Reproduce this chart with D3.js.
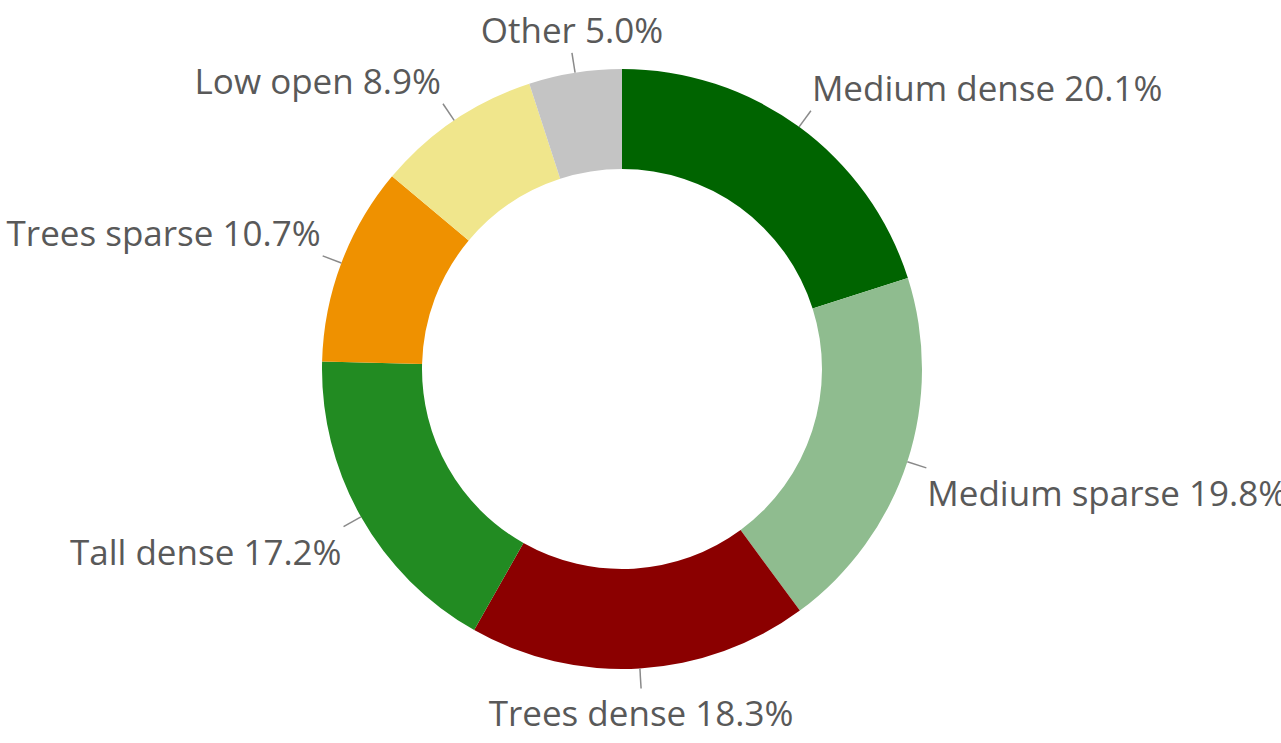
<!DOCTYPE html>
<html>
<head>
<meta charset="utf-8">
<script src="https://cdn.jsdelivr.net/npm/d3@7"></script>
<style>
  body { margin: 0; background: #fff; }
  .label { font-family: "Open Sans", sans-serif; font-size: 35px; fill: #595959; }
  .leader { stroke: #8a8a8a; stroke-width: 1.5; fill: none; }
</style>
</head>
<body>
<script>
var categories = ['Medium dense', 'Medium sparse', 'Trees dense', 'Tall dense', 'Trees sparse', 'Low open', 'Other'];
var shares     = [20.1, 19.8, 18.3, 17.2, 10.7, 8.9, 5.0];
var colours    = ['#006400', '#8fbc8f', '#8b0000', '#228b22', '#ef9100', '#f0e68c', '#c4c4c4'];

var width = 1281, height = 743,
  cx = 622, cy = 369,
  outer = 300, inner = 200, tick = 20;

var data = categories.map(function(c, i) { return {name: c, value: shares[i], colour: colours[i]}; });

var svg = d3.select('body').append('svg')
  .attr('width', width)
  .attr('height', height);

var g = svg.append('g')
  .attr('transform', 'translate(' + cx + ',' + cy + ')');

var pie = d3.pie()
  .sort(null)
  .value(function(d) { return d.value; });

var arc = d3.arc()
  .innerRadius(inner)
  .outerRadius(outer);

var arcs = pie(data);

g.selectAll('path.slice')
  .data(arcs)
  .enter().append('path')
  .attr('class', 'slice')
  .attr('fill', function(d) { return d.data.colour; })
  .attr('d', arc);

function mid(d) { return (d.startAngle + d.endAngle) / 2; }

g.selectAll('line.leader')
  .data(arcs)
  .enter().append('line')
  .attr('class', 'leader')
  .attr('x1', function(d) { return outer * Math.sin(mid(d)); })
  .attr('y1', function(d) { return -outer * Math.cos(mid(d)); })
  .attr('x2', function(d) { return (outer + tick) * Math.sin(mid(d)); })
  .attr('y2', function(d) { return -(outer + tick) * Math.cos(mid(d)); });

g.selectAll('text.label')
  .data(arcs)
  .enter().append('text')
  .attr('class', 'label')
  .attr('x', function(d) {
    var s = Math.sin(mid(d));
    var x = (outer + tick) * s;
    if (Math.abs(s) < 0.2) return x;
    return s > 0 ? x + 1 : x - 2;
  })
  .attr('y', function(d) {
    var c = Math.cos(mid(d));
    var y = -(outer + tick) * c;
    return c > 0 ? y - 10 : y + 38;
  })
  .style('text-anchor', function(d) {
    var s = Math.sin(mid(d));
    if (Math.abs(s) < 0.2) return 'middle';
    return s > 0 ? 'start' : 'end';
  })
  .text(function(d) { return d.data.name + ' ' + d.data.value.toFixed(1) + '%'; });
</script>
</body>
</html>
